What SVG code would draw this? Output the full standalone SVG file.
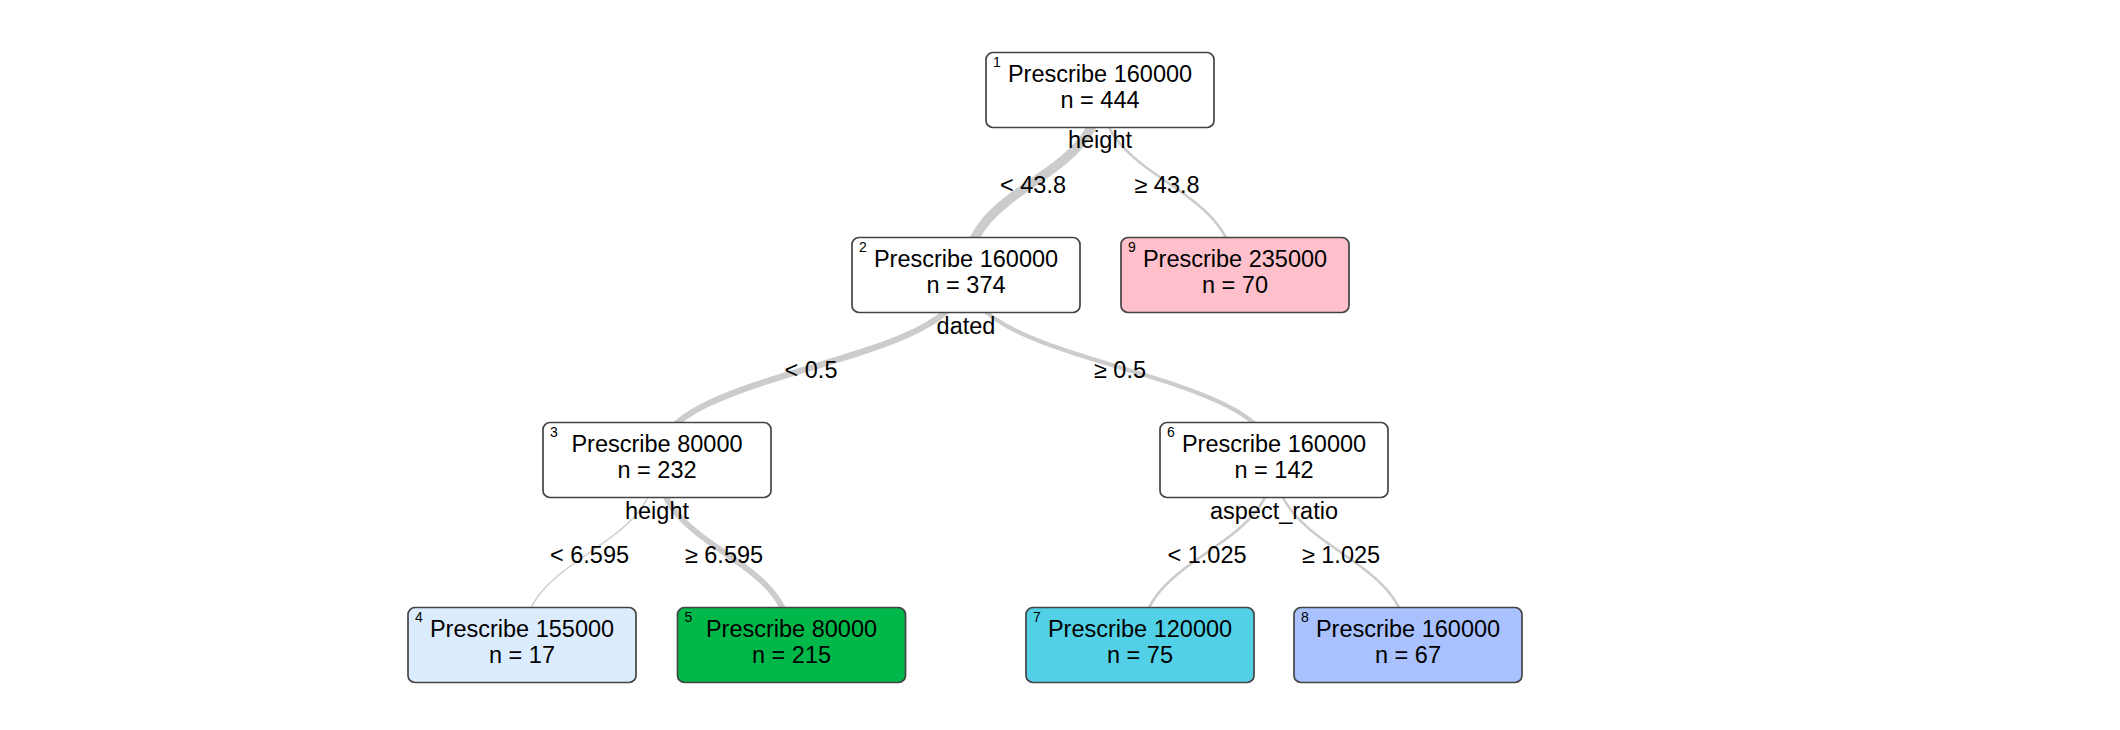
<svg xmlns="http://www.w3.org/2000/svg" width="2120" height="730" viewBox="0 0 2120 730">
<style>
text{font-family:"Liberation Sans",Arial,Helvetica,sans-serif;fill:#000}
.box{stroke:#444;stroke-width:1.7}
.t{font-size:23.5px;text-anchor:middle}
.sup{font-size:14px}
.lab{font-size:23.5px;text-anchor:middle}
.e{fill:none;stroke:#cccccc;stroke-linecap:butt}
</style>
<rect width="2120" height="730" fill="#ffffff"/>
<g id="connectors">
<path class="e" stroke-width="9.4" d="M1100 90 C1100 182.5 966 182.5 966 275"/>
<path class="e" stroke-width="2.6" d="M1100 90 C1100 182.5 1235 182.5 1235 275"/>
<path class="e" stroke-width="6.2" d="M966 275 C966 367.5 657 367.5 657 460"/>
<path class="e" stroke-width="4.2" d="M966 275 C966 367.5 1274 367.5 1274 460"/>
<path class="e" stroke-width="1.4" d="M657 460 C657 552.5 522 552.5 522 645"/>
<path class="e" stroke-width="5.8" d="M657 460 C657 552.5 791.5 552.5 791.5 645"/>
<path class="e" stroke-width="2.7" d="M1274 460 C1274 552.5 1140 552.5 1140 645"/>
<path class="e" stroke-width="2.5" d="M1274 460 C1274 552.5 1408 552.5 1408 645"/>
</g>
<g id="labels">
<text class="lab" x="1100" y="148">height</text>
<text class="lab" x="1033" y="193">&lt; 43.8</text>
<text class="lab" x="1167" y="193">≥ 43.8</text>
<text class="lab" x="966" y="334">dated</text>
<text class="lab" x="811" y="378">&lt; 0.5</text>
<text class="lab" x="1120" y="378">≥ 0.5</text>
<text class="lab" x="657" y="519">height</text>
<text class="lab" x="589.5" y="563">&lt; 6.595</text>
<text class="lab" x="724" y="563">≥ 6.595</text>
<text class="lab" x="1274" y="519">aspect_ratio</text>
<text class="lab" x="1207" y="563">&lt; 1.025</text>
<text class="lab" x="1341" y="563">≥ 1.025</text>
</g>
<g id="node1">
<rect class="box" x="986" y="52.5" width="228" height="75" rx="7" fill="#ffffff"/>
<text class="sup" x="993" y="67">1</text>
<text class="t" x="1100" y="82">Prescribe 160000</text>
<text class="t" x="1100" y="108">n = 444</text>
</g>
<g id="node2">
<rect class="box" x="852" y="237.5" width="228" height="75" rx="7" fill="#ffffff"/>
<text class="sup" x="859" y="252">2</text>
<text class="t" x="966" y="267">Prescribe 160000</text>
<text class="t" x="966" y="293">n = 374</text>
</g>
<g id="node9">
<rect class="box" x="1121" y="237.5" width="228" height="75" rx="7" fill="#ffc0cb"/>
<text class="sup" x="1128" y="252">9</text>
<text class="t" x="1235" y="267">Prescribe 235000</text>
<text class="t" x="1235" y="293">n = 70</text>
</g>
<g id="node3">
<rect class="box" x="543" y="422.5" width="228" height="75" rx="7" fill="#ffffff"/>
<text class="sup" x="550" y="437">3</text>
<text class="t" x="657" y="452">Prescribe 80000</text>
<text class="t" x="657" y="478">n = 232</text>
</g>
<g id="node6">
<rect class="box" x="1160" y="422.5" width="228" height="75" rx="7" fill="#ffffff"/>
<text class="sup" x="1167" y="437">6</text>
<text class="t" x="1274" y="452">Prescribe 160000</text>
<text class="t" x="1274" y="478">n = 142</text>
</g>
<g id="node4">
<rect class="box" x="408" y="607.5" width="228" height="75" rx="7" fill="#dcecff"/>
<text class="sup" x="415" y="622">4</text>
<text class="t" x="522" y="637">Prescribe 155000</text>
<text class="t" x="522" y="663">n = 17</text>
</g>
<g id="node5">
<rect class="box" x="677.5" y="607.5" width="228" height="75" rx="7" fill="#00b84a"/>
<text class="sup" x="684.5" y="622">5</text>
<text class="t" x="791.5" y="637">Prescribe 80000</text>
<text class="t" x="791.5" y="663">n = 215</text>
</g>
<g id="node7">
<rect class="box" x="1026" y="607.5" width="228" height="75" rx="7" fill="#52d1e6"/>
<text class="sup" x="1033" y="622">7</text>
<text class="t" x="1140" y="637">Prescribe 120000</text>
<text class="t" x="1140" y="663">n = 75</text>
</g>
<g id="node8">
<rect class="box" x="1294" y="607.5" width="228" height="75" rx="7" fill="#a9c1ff"/>
<text class="sup" x="1301" y="622">8</text>
<text class="t" x="1408" y="637">Prescribe 160000</text>
<text class="t" x="1408" y="663">n = 67</text>
</g>
</svg>
